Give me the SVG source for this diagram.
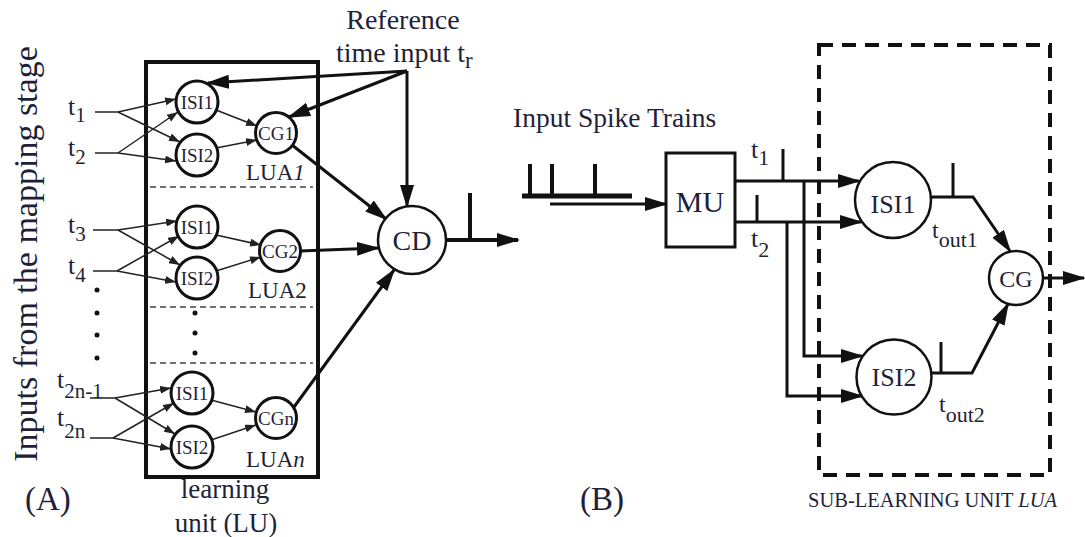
<svg xmlns="http://www.w3.org/2000/svg" width="1085" height="537" viewBox="0 0 1085 537" font-family="'Liberation Serif','Times New Roman',serif">
<style>
text{font-family:"Liberation Serif","Times New Roman",serif;fill:#1f1f3a}
.c{fill:#fff;stroke:#111;stroke-width:3}
.c2{fill:#fff;stroke:#111;stroke-width:2.5}
.thin{fill:none;stroke:#222;stroke-width:1.5}
.thick{fill:none;stroke:#111;stroke-width:3}
.vthick{fill:none;stroke:#111;stroke-width:4}
.dash{stroke:#444;stroke-width:1.5;stroke-dasharray:6 4}
.m{text-anchor:middle}
</style>
<defs>
<marker id="s" markerUnits="userSpaceOnUse" markerWidth="11" markerHeight="8" refX="11" refY="4" orient="auto"><path d="M0,0 L11,4 L0,8 z" fill="#222"/></marker>
<marker id="b" markerUnits="userSpaceOnUse" markerWidth="23" markerHeight="15" refX="21" refY="7" orient="auto"><path d="M0,0 L23,7 L0,14 z" fill="#111"/></marker>
</defs>

<rect width="1085" height="537" fill="#fff"/>

<g id="side-label"><text class="m" transform="translate(37,254) rotate(-90)" font-size="34">Inputs from the mapping stage</text></g>

<g id="LU">
<rect x="146" y="62" width="172" height="415" fill="none" stroke="#111" stroke-width="4"/>
<line class="dash" x1="150" y1="187" x2="313" y2="187"/>
<line class="dash" x1="150" y1="307" x2="313" y2="307"/>
<line class="dash" x1="150" y1="363" x2="313" y2="363"/>
<circle cx="195" cy="313" r="2.5" fill="#111"/><circle cx="195" cy="333" r="2.5" fill="#111"/><circle cx="195" cy="353" r="2.5" fill="#111"/>
<text x="225" y="498" class="m" font-size="27">learning</text>
<text x="226" y="532" class="m" font-size="27">unit (LU)</text>
</g>

<g id="inputs">
<text x="68" y="115" font-size="26">t<tspan dy="7" font-size="21">1</tspan></text>
<text x="68" y="156" font-size="26">t<tspan dy="8" font-size="21">2</tspan></text>
<text x="68" y="233" font-size="26">t<tspan dy="8" font-size="21">3</tspan></text>
<text x="68" y="274" font-size="26">t<tspan dy="8" font-size="21">4</tspan></text>
<circle cx="97" cy="290" r="2.5" fill="#111"/><circle cx="97" cy="313" r="2.5" fill="#111"/><circle cx="97" cy="335" r="2.5" fill="#111"/><circle cx="97" cy="358" r="2.5" fill="#111"/>
<text x="57" y="388" font-size="26">t<tspan dy="10" font-size="21">2n-1</tspan></text>
<text x="57" y="426" font-size="26">t<tspan dy="12" font-size="21">2n</tspan></text>
</g>

<g id="connectors">
<path class="thin" d="M95,112 H118"/>
<path class="thin" d="M118,112 L176,99" marker-end="url(#s)"/>
<path class="thin" d="M118,112 L180,142" marker-end="url(#s)"/>
<path class="thin" d="M95,153 H118"/>
<path class="thin" d="M118,153 L178,112" marker-end="url(#s)"/>
<path class="thin" d="M118,153 L176,161" marker-end="url(#s)"/>
<path class="thin" d="M216,110 L257,126" marker-end="url(#s)"/>
<path class="thin" d="M216,148 L257,140" marker-end="url(#s)"/>

<path class="thin" d="M93,230 H118"/>
<path class="thin" d="M118,230 L177,221" marker-end="url(#s)"/>
<path class="thin" d="M118,230 L180,265" marker-end="url(#s)"/>
<path class="thin" d="M93,271 H117"/>
<path class="thin" d="M117,271 L179,236" marker-end="url(#s)"/>
<path class="thin" d="M117,271 L176,282" marker-end="url(#s)"/>
<path class="thin" d="M216,235 L261,245" marker-end="url(#s)"/>
<path class="thin" d="M216,271 L261,257" marker-end="url(#s)"/>

<path class="thin" d="M90,398 H115"/>
<path class="thin" d="M115,398 L171,388" marker-end="url(#s)"/>
<path class="thin" d="M115,398 L175,434" marker-end="url(#s)"/>
<path class="thin" d="M90,438 H113"/>
<path class="thin" d="M113,438 L174,403" marker-end="url(#s)"/>
<path class="thin" d="M113,438 L171,449" marker-end="url(#s)"/>
<path class="thin" d="M211,400 L256,412" marker-end="url(#s)"/>
<path class="thin" d="M211,440 L256,425" marker-end="url(#s)"/>

<path class="thick" d="M407,71 L208,83" marker-end="url(#b)"/>
<path class="thick" d="M407,71 L289,117" marker-end="url(#b)"/>
<path class="thick" d="M407,71 V206" marker-end="url(#b)"/>
<path class="thick" d="M292,145 L386,219" marker-end="url(#b)"/>
<path class="thick" d="M300,251 L378,248" marker-end="url(#b)"/>
<path class="thick" d="M294,407 L394,270" marker-end="url(#b)"/>
<path class="vthick" d="M446,240 H518" marker-end="url(#b)"/>
<path class="vthick" d="M470,240 V193"/>

<path d="M522,196 H632" stroke="#111" stroke-width="5" fill="none"/>
<path d="M530,196 V164 M552,196 V164 M595,196 V164" stroke="#111" stroke-width="4" fill="none"/>
<path class="thick" d="M550,204 H666" marker-end="url(#b)"/>

<path class="thick" d="M735,181 H859" marker-end="url(#b)"/>
<path class="thick" d="M783,181 V149"/>
<path class="thick" d="M735,222 H861" marker-end="url(#b)"/>
<path class="thick" d="M757,222 V195"/>
<path class="thick" d="M804,181 V356 H862" marker-end="url(#b)"/>
<path class="thick" d="M787,222 V396 H862" marker-end="url(#b)"/>
<path class="thick" d="M931,197 H973 L1010,251" marker-end="url(#b)"/>
<path class="thick" d="M953,197 V163"/>
<path class="thick" d="M932,373 H972 L1008,304" marker-end="url(#b)"/>
<path class="thick" d="M941,373 V342"/>
<path class="thick" d="M1043,278 H1084" marker-end="url(#b)"/>
</g>

<g id="LUA1">
<circle class="c" cx="197" cy="102" r="21"/><text class="m" x="197" y="109" font-size="19">ISI1</text>
<circle class="c" cx="197" cy="155" r="21"/><text class="m" x="197" y="162" font-size="19">ISI2</text>
<circle class="c" cx="276" cy="133" r="20.5"/><text class="m" x="276" y="140" font-size="19">CG1</text>
<text x="246" y="180" font-size="23">LUA<tspan font-style="italic">1</tspan></text>
</g>
<g id="LUA2">
<circle class="c" cx="197" cy="227" r="21"/><text class="m" x="197" y="234" font-size="19">ISI1</text>
<circle class="c" cx="197" cy="278" r="21"/><text class="m" x="197" y="285" font-size="19">ISI2</text>
<circle class="c" cx="280" cy="251" r="20.5"/><text class="m" x="280" y="258" font-size="19">CG2</text>
<text x="248" y="298" font-size="23">LUA2</text>
</g>
<g id="LUAn">
<circle class="c" cx="192" cy="393" r="21"/><text class="m" x="192" y="400" font-size="19">ISI1</text>
<circle class="c" cx="192" cy="447" r="21"/><text class="m" x="192" y="454" font-size="19">ISI2</text>
<circle class="c" cx="276" cy="418" r="20.5"/><text class="m" x="276" y="425" font-size="19">CGn</text>
<text x="246" y="467" font-size="23">LUA<tspan font-style="italic">n</tspan></text>
</g>

<g id="reference">
<text class="m" x="403" y="29" font-size="28">Reference</text>
<text x="336" y="62" font-size="28">time input t<tspan dy="6" font-size="23">r</tspan></text>
</g>

<g id="CD">
<circle class="c2" cx="412" cy="240" r="34"/><text class="m" x="412" y="250" font-size="28">CD</text>
</g>

<g id="label-A"><text x="25" y="510" font-size="33">(A)</text></g>
<g id="label-B"><text x="580" y="510" font-size="33">(B)</text></g>

<g id="spike-input"><text x="513" y="127" font-size="27.5">Input Spike Trains</text></g>

<g id="MU">
<rect x="666" y="153" width="69" height="94" fill="#fff" stroke="#111" stroke-width="3"/>
<text class="m" x="700" y="212" font-size="30">MU</text>
<text x="751" y="158" font-size="26">t<tspan dy="7" font-size="22">1</tspan></text>
<text x="751" y="247" font-size="26">t<tspan dy="10" font-size="22">2</tspan></text>
</g>

<g id="LUA-sub">
<rect x="819" y="45" width="231" height="430" fill="none" stroke="#111" stroke-width="4" stroke-dasharray="14 9"/>
<text x="808" y="507" font-size="20.5">SUB-LEARNING UNIT <tspan font-style="italic">LUA</tspan></text>
</g>
<g id="ISI1"><circle class="c2" cx="893" cy="200" r="38"/><text class="m" x="893" y="213" font-size="26">ISI1</text></g>
<g id="ISI2"><circle class="c2" cx="894" cy="377" r="37.5"/><text class="m" x="894" y="386" font-size="26">ISI2</text></g>
<g id="CG"><circle class="c2" cx="1016" cy="278" r="27"/><text class="m" x="1016" y="287" font-size="24">CG</text></g>
<g id="tout">
<text x="932" y="238" font-size="24">t<tspan dy="9" font-size="22">out1</tspan></text>
<text x="939" y="412" font-size="24">t<tspan dy="10" font-size="22">out2</tspan></text>
</g>
</svg>
